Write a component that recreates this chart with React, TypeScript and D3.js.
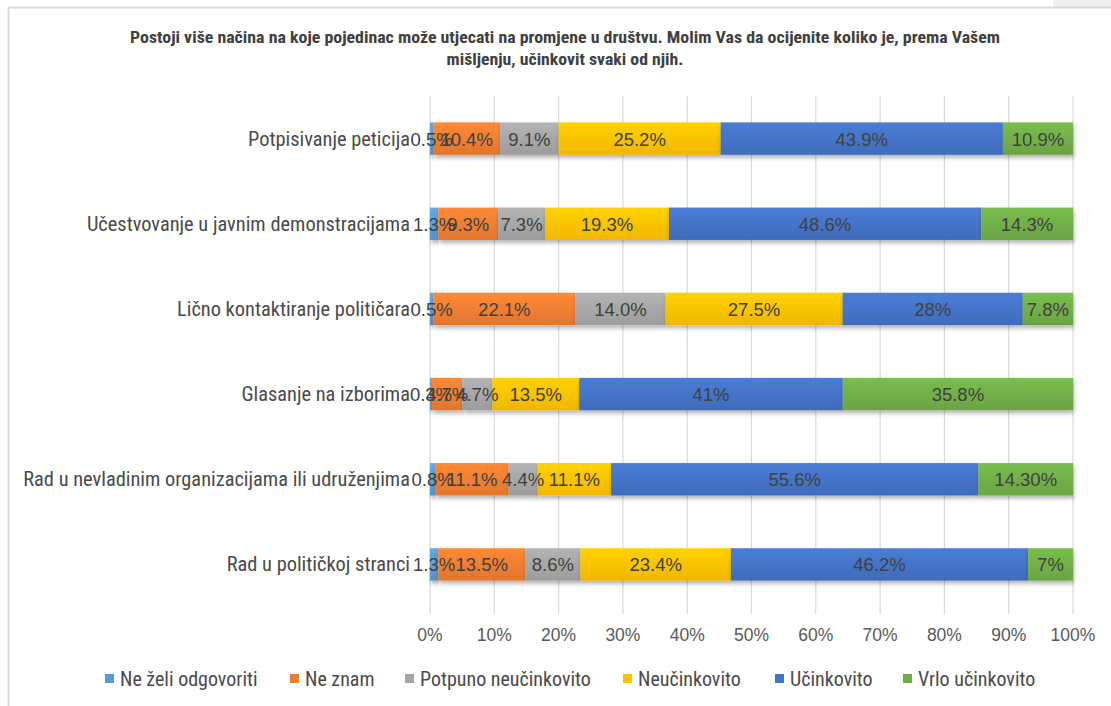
import React, { useEffect, useRef } from 'react';
import * as d3 from 'd3';

const title1 = 'Postoji više načina na koje pojedinac može utjecati na promjene u društvu. Molim Vas da ocijenite koliko je, prema Vašem';
const title2 = 'mišljenju, učinkovit svaki od njih.';

const categories = [
  'Potpisivanje peticija',
  'Učestvovanje u javnim demonstracijama',
  'Lično kontaktiranje političara',
  'Glasanje na izborima',
  'Rad u nevladinim organizacijama ili udruženjima',
  'Rad u političkoj stranci',
];

const seriesNames = ['Ne želi odgovoriti', 'Ne znam', 'Potpuno neučinkovito', 'Neučinkovito', 'Učinkovito', 'Vrlo učinkovito'];
const seriesColors = ['#5B9BD5', '#ED7D31', '#A5A5A5', '#FFC000', '#4472C4', '#70AD47'];

// values per series, in category order
const neZeli = [0.5, 1.3, 0.5, 0.3, 0.8, 1.3];
const neZnam = [10.4, 9.3, 22.1, 4.7, 11.1, 13.5];
const potpunoNeuc = [9.1, 7.3, 14.0, 4.7, 4.4, 8.6];
const neucinkovito = [25.2, 19.3, 27.5, 13.5, 11.1, 23.4];
const ucinkovito = [43.9, 48.6, 28, 41, 55.6, 46.2];
const vrloUcinkovito = [10.9, 14.3, 7.8, 35.8, 14.3, 7];

// labels as printed on the chart
const neZeliLbl = ['0.5%', '1.3%', '0.5%', '0.3%', '0.8%', '1.3%'];
const neZnamLbl = ['10.4%', '9.3%', '22.1%', '4.7%', '11.1%', '13.5%'];
const potpunoLbl = ['9.1%', '7.3%', '14.0%', '4.7%', '4.4%', '8.6%'];
const neucLbl = ['25.2%', '19.3%', '27.5%', '13.5%', '11.1%', '23.4%'];
const ucLbl = ['43.9%', '48.6%', '28%', '41%', '55.6%', '46.2%'];
const vrloLbl = ['10.9%', '14.3%', '7.8%', '35.8%', '14.30%', '7%'];

const tickLabels = ['0%', '10%', '20%', '30%', '40%', '50%', '60%', '70%', '80%', '90%', '100%'];

const legendX = [105, 290, 405, 623, 775, 903];

const narrow = '"Liberation Sans Narrow", "Roboto Condensed", "DejaVu Sans Condensed", sans-serif';
const regular = '"Liberation Sans", Arial, sans-serif';

export default function App() {
  const ref = useRef<SVGSVGElement>(null);

  useEffect(() => {
    const W = 1111, H = 706;
    const svg = d3.select(ref.current).attr('width', W).attr('height', H);
    svg.selectAll('*').remove();

    const seriesVals = [neZeli, neZnam, potpunoNeuc, neucinkovito, ucinkovito, vrloUcinkovito];
    const seriesLbls = [neZeliLbl, neZnamLbl, potpunoLbl, neucLbl, ucLbl, vrloLbl];
    const rows = categories.map((c, i) => {
      const r: any = { cat: c };
      seriesNames.forEach((s, j) => (r[s] = seriesVals[j][i]));
      return r;
    });
    const stacked = d3.stack().keys(seriesNames).offset(d3.stackOffsetExpand)(rows);

    const x = d3.scaleLinear().domain([0, 1]).range([430, 1073]);
    const y = d3.scaleBand().domain(categories).range([96, 607]).paddingInner(0.62).paddingOuter(0.31);

    const defs = svg.append('defs');
    const f = defs.append('filter').attr('id', 'sh').attr('x', '-5%').attr('y', '-30%').attr('width', '110%').attr('height', '180%');
    f.append('feDropShadow').attr('dx', 1).attr('dy', 3).attr('stdDeviation', 2).attr('flood-color', '#000').attr('flood-opacity', 0.3);
    seriesColors.forEach((c, i) => {
      const g = defs.append('linearGradient').attr('id', 'g' + i).attr('x1', 0).attr('y1', 0).attr('x2', 0).attr('y2', 1);
      g.append('stop').attr('offset', '0%').attr('stop-color', d3.color(c)!.brighter(0.25).formatHex());
      g.append('stop').attr('offset', '100%').attr('stop-color', d3.color(c)!.darker(0.15).formatHex());
    });

    // frame
    svg.append('rect').attr('x', 1053).attr('y', 0).attr('width', 58).attr('height', 7).attr('fill', '#f0f0f0');
    svg.append('line').attr('x1', 8).attr('x2', W).attr('y1', 7.5).attr('y2', 7.5).attr('stroke', '#d9d9d9').attr('stroke-width', 2);
    svg.append('line').attr('x1', 8.5).attr('x2', 8.5).attr('y1', 7).attr('y2', H).attr('stroke', '#d9d9d9').attr('stroke-width', 2);

    // title
    const t = svg.append('text').attr('text-anchor', 'middle').attr('font-family', narrow).attr('font-weight', 'bold')
      .attr('font-size', 17).attr('fill', '#404040');
    t.append('tspan').attr('x', 565).attr('y', 43).attr('textLength', 870).attr('lengthAdjust', 'spacingAndGlyphs').text(title1);
    t.append('tspan').attr('x', 565).attr('y', 65).attr('textLength', 237).attr('lengthAdjust', 'spacingAndGlyphs').text(title2);

    // grid
    svg.append('g').selectAll('line').data(x.ticks(10)).join('line')
      .attr('x1', d => x(d)).attr('x2', d => x(d)).attr('y1', 96).attr('y2', 614)
      .attr('stroke', '#d9d9d9').attr('stroke-width', 1.2);

    // bars
    const layers = svg.append('g').selectAll('g').data(stacked).join('g')
      .attr('fill', (d, i) => `url(#g${i})`);
    layers.selectAll('rect').data(d => d).join('rect')
      .attr('x', d => x(d[0])).attr('width', d => x(d[1]) - x(d[0]))
      .attr('y', (d: any) => y(d.data.cat)!).attr('height', y.bandwidth())
      .attr('filter', 'url(#sh)');

    // data labels
    stacked.forEach((s, si) => {
      svg.append('g').selectAll('text').data(s).join('text')
        .attr('x', d => (x(d[0]) + x(d[1])) / 2)
        .attr('y', (d: any) => y(d.data.cat)! + y.bandwidth() / 2 + 7)
        .attr('text-anchor', 'middle').attr('font-family', regular).attr('font-size', 18.5).attr('fill', '#404040')
        .text((d, i) => seriesLbls[si][i]);
    });

    // category labels
    svg.append('g').selectAll('text').data(categories).join('text')
      .attr('x', 410).attr('y', d => y(d)! + y.bandwidth() / 2 + 7)
      .attr('text-anchor', 'end').attr('font-family', narrow).attr('font-size', 20.4).attr('fill', '#4a4a4a')
      .text(d => d);

    // x tick labels
    svg.append('g').selectAll('text').data(x.ticks(10)).join('text')
      .attr('x', d => x(d)).attr('y', 641).attr('text-anchor', 'middle')
      .attr('font-family', regular).attr('font-size', 17.5).attr('fill', '#595959')
      .text((d, i) => tickLabels[i]);

    // legend
    const lg = svg.append('g').selectAll('g').data(seriesNames).join('g')
      .attr('transform', (d, i) => `translate(${legendX[i]},680)`);
    lg.append('rect').attr('x', 0).attr('y', -6).attr('width', 9).attr('height', 9).attr('fill', (d, i) => seriesColors[i]);
    lg.append('text').attr('x', 15).attr('y', 6).attr('font-family', narrow).attr('font-size', 20).attr('fill', '#4a4a4a')
      .text(d => d);
  }, []);

  return <svg ref={ref} style={{ display: 'block', position: 'absolute', left: 0, top: 0 }} />;
}
